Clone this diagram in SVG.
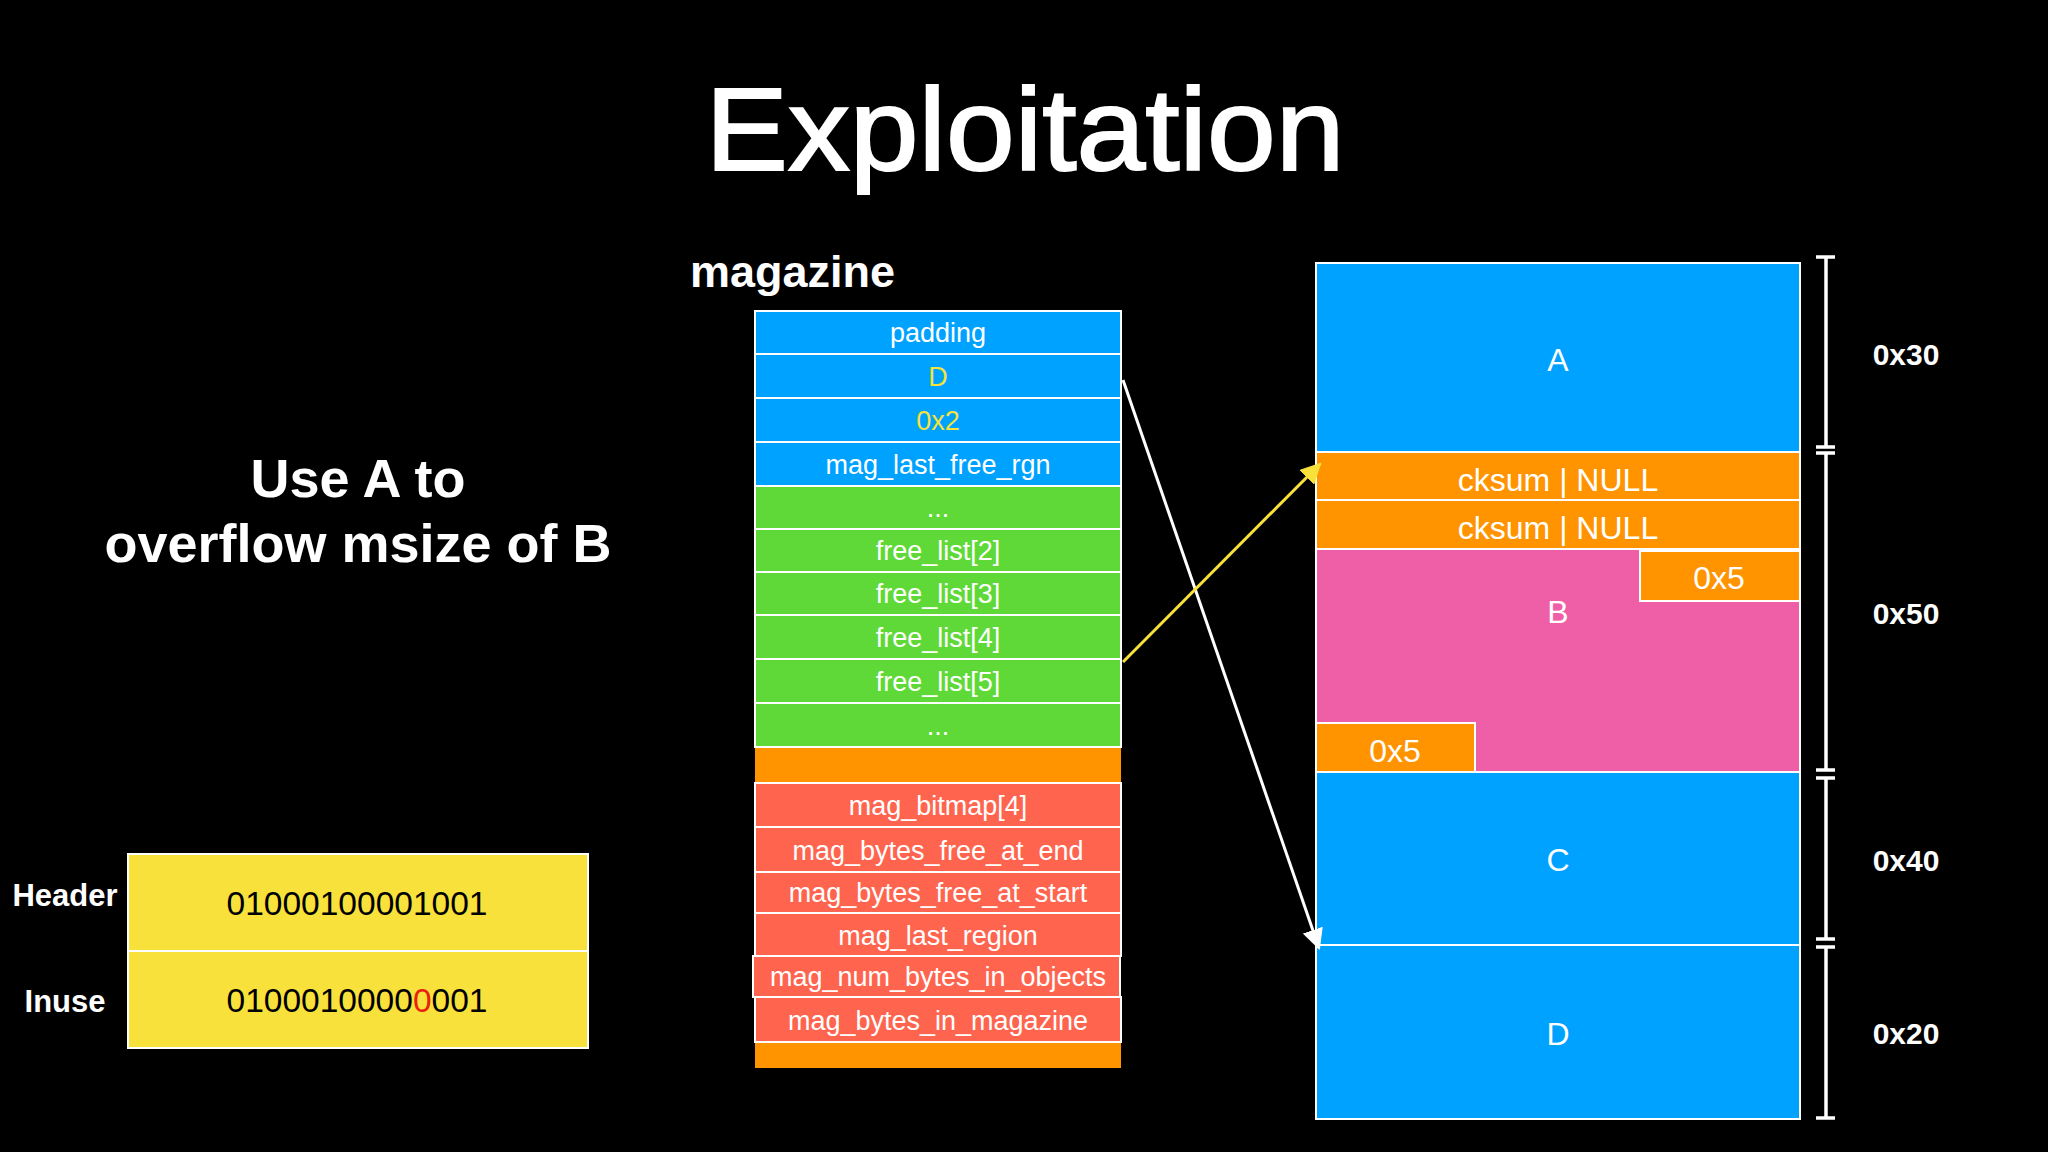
<svg xmlns="http://www.w3.org/2000/svg" width="2048" height="1152" viewBox="0 0 2048 1152">
<defs>
<style>
text{font-family:"Liberation Sans",Arial,Helvetica,sans-serif}
.cell{stroke:#fff;stroke-width:2}
.blue{fill:#00A2FF}.green{fill:#5FD937}.orange{fill:#FF9300}.red{fill:#FF644E}.pink{fill:#EF5FA7}.yel{fill:#F8E13A}
.lbl{fill:#fff;font-size:27px;text-anchor:middle}
.ylbl{fill:#F5E23C;font-size:27px;text-anchor:middle}
.big{fill:#fff;font-size:32px;text-anchor:middle}
.sz{fill:#fff;font-size:30px;font-weight:bold;text-anchor:middle}
.bin{fill:#000;font-size:33.5px;text-anchor:middle}
.side{fill:#fff;font-size:31px;font-weight:bold;text-anchor:middle}
.br{stroke:#fff;stroke-width:3.5;fill:none}
</style>
<marker id="ahW" viewBox="0 0 10 10" refX="9" refY="5" markerWidth="7" markerHeight="7" markerUnits="strokeWidth" orient="auto"><path d="M0,0 L10,5 L0,10 z" fill="#fff"/></marker>
<marker id="ahY" viewBox="0 0 10 10" refX="9" refY="5" markerWidth="7" markerHeight="7" markerUnits="strokeWidth" orient="auto"><path d="M0,0 L10,5 L0,10 z" fill="#F8E13A"/></marker>
</defs>
<rect width="2048" height="1152" fill="#000"/>
<text x="1025" y="170" font-size="117" fill="#fff" stroke="#fff" stroke-width="2" text-anchor="middle" textLength="639" lengthAdjust="spacingAndGlyphs">Exploitation</text>
<g id="note">
<text x="358" y="497" font-size="54" font-weight="bold" fill="#fff" text-anchor="middle">Use A to</text>
<text x="358" y="562" font-size="54" font-weight="bold" fill="#fff" text-anchor="middle">overflow msize of B</text>
</g>
<g id="bits">
<rect class="cell yel" x="128" y="854" width="460" height="97"/>
<rect class="cell yel" x="128" y="951" width="460" height="97"/>
<text class="side" x="65" y="906">Header</text>
<text class="side" x="65" y="1012">Inuse</text>
<text class="bin" x="357" y="915">01000100001001</text>
<text class="bin" x="357" y="1012">0100010000<tspan fill="#E8220E">0</tspan>001</text>
</g>
<g id="magazine">
<text x="690" y="287" font-size="45" font-weight="bold" fill="#fff">magazine</text>
<rect class="cell blue" x="755" y="311" width="366" height="43"/>
<rect class="cell blue" x="755" y="354" width="366" height="44"/>
<rect class="cell blue" x="755" y="398" width="366" height="44"/>
<rect class="cell blue" x="755" y="442" width="366" height="44"/>
<rect class="cell green" x="755" y="486" width="366" height="43"/>
<rect class="cell green" x="755" y="529" width="366" height="43"/>
<rect class="cell green" x="755" y="572" width="366" height="43"/>
<rect class="cell green" x="755" y="615" width="366" height="44"/>
<rect class="cell green" x="755" y="659" width="366" height="44"/>
<rect class="cell green" x="755" y="703" width="366" height="44"/>
<rect class="orange" x="755" y="748" width="366" height="35"/>
<rect class="cell red" x="755" y="783" width="366" height="44"/>
<rect class="cell red" x="755" y="827" width="366" height="45"/>
<rect class="cell red" x="755" y="872" width="366" height="41"/>
<rect class="cell red" x="755" y="913" width="366" height="43"/>
<rect class="cell red" x="753" y="956" width="367" height="41"/>
<rect class="cell red" x="755" y="997" width="366" height="45"/>
<rect class="orange" x="755" y="1043" width="366" height="25"/>
<text class="lbl" x="938" y="342">padding</text>
<text class="ylbl" x="938" y="386">D</text>
<text class="ylbl" x="938" y="430">0x2</text>
<text class="lbl" x="938" y="474">mag_last_free_rgn</text>
<text class="lbl" x="938" y="517">...</text>
<text class="lbl" x="938" y="560">free_list[2]</text>
<text class="lbl" x="938" y="603">free_list[3]</text>
<text class="lbl" x="938" y="647">free_list[4]</text>
<text class="lbl" x="938" y="691">free_list[5]</text>
<text class="lbl" x="938" y="735">...</text>
<text class="lbl" x="938" y="815">mag_bitmap[4]</text>
<text class="lbl" x="938" y="860">mag_bytes_free_at_end</text>
<text class="lbl" x="938" y="902">mag_bytes_free_at_start</text>
<text class="lbl" x="938" y="945">mag_last_region</text>
<text class="lbl" x="938" y="986">mag_num_bytes_in_objects</text>
<text class="lbl" x="938" y="1030">mag_bytes_in_magazine</text>
</g>
<g id="heap">
<g id="chunkA"><rect class="cell blue" x="1316" y="263" width="484" height="189"/><text class="big" x="1558" y="371">A</text></g>
<g id="chunkB">
<rect class="cell pink" x="1316" y="549" width="484" height="223"/>
<rect class="cell orange" x="1316" y="452" width="484" height="48"/>
<rect class="cell orange" x="1316" y="500" width="484" height="49"/>
<text class="big" x="1558" y="491" font-size="36">cksum | NULL</text>
<text class="big" x="1558" y="539" font-size="36">cksum | NULL</text>
<rect class="cell orange" x="1640" y="551" width="160" height="50"/>
<text class="big" x="1719" y="589" font-size="34">0x5</text>
<rect class="cell orange" x="1316" y="723" width="159" height="49"/>
<text class="big" x="1395" y="762" font-size="34">0x5</text>
<text class="big" x="1558" y="623">B</text>
</g>
<g id="chunkC"><rect class="cell blue" x="1316" y="772" width="484" height="173"/><text class="big" x="1558" y="871">C</text></g>
<g id="chunkD"><rect class="cell blue" x="1316" y="945" width="484" height="174"/><text class="big" x="1558" y="1045">D</text></g>
</g>
<g id="sizes">
<path class="br" d="M1826,257V447M1816,257H1835M1816,447H1835"/>
<path class="br" d="M1826,453V770M1816,453H1835M1816,770H1835"/>
<path class="br" d="M1826,778V939M1816,778H1835M1816,939H1835"/>
<path class="br" d="M1826,947V1118M1816,947H1835M1816,1118H1835"/>
<text class="sz" x="1906" y="365">0x30</text>
<text class="sz" x="1906" y="624">0x50</text>
<text class="sz" x="1906" y="871">0x40</text>
<text class="sz" x="1906" y="1044">0x20</text>
</g>
<g id="connectors">
<line x1="1123" y1="380" x2="1319" y2="948" stroke="#fff" stroke-width="3" marker-end="url(#ahW)"/>
<line x1="1123" y1="662" x2="1320" y2="464" stroke="#F8E13A" stroke-width="3" marker-end="url(#ahY)"/>
</g>
</svg>
